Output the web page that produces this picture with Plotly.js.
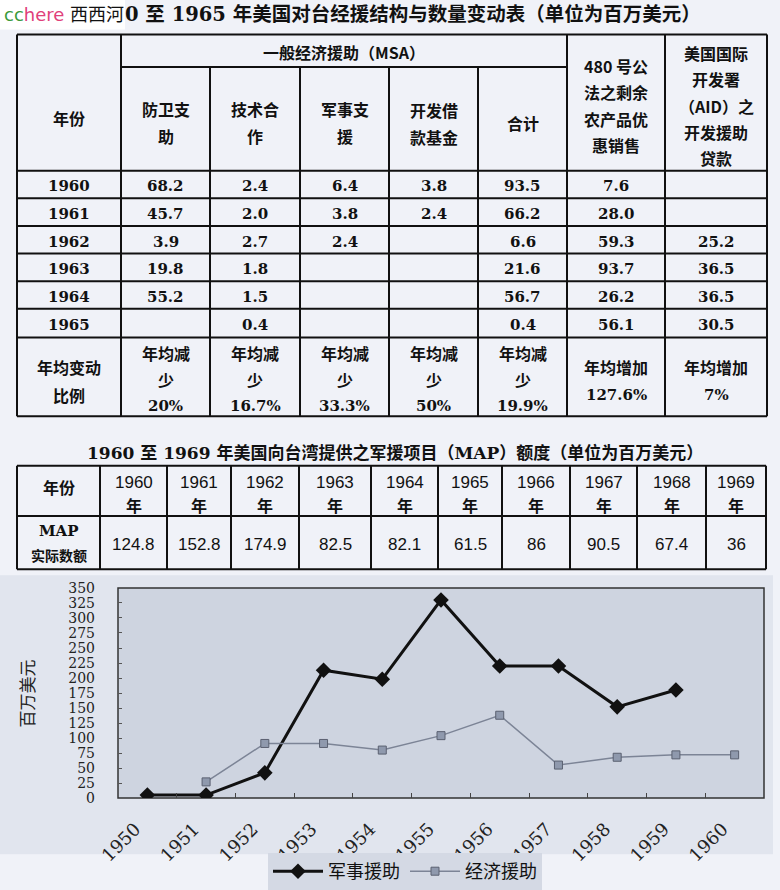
<!DOCTYPE html>
<html>
<head>
<meta charset="utf-8">
<script src="https://cdn.plot.ly/plotly-3.0.1.min.js"></script>
<style>
  body { margin: 0; padding: 0; background: #f0f2f8; }
  #plot { width: 780px; height: 890px; }
</style>
</head>
<body>
<div id="plot"></div>
<script>
// Table 1: 1960-1965 economic aid structure (million USD)
let years1 = ["1960", "1961", "1962", "1963", "1964", "1965"];
let defenseSupport = [68.2, 45.7, 3.9, 19.8, 55.2, null];
let techCoop = [2.4, 2.0, 2.7, 1.8, 1.5, 0.4];
let militarySupport = [6.4, 3.8, 2.4, null, null, null];
let devLoanFund = [3.8, 2.4, null, null, null, null];
let msaTotal = [93.5, 66.2, 6.6, 21.6, 56.7, 0.4];
let pl480 = [7.6, 28.0, 59.3, 93.7, 26.2, 56.1];
let aidLoans = [null, null, 25.2, 36.5, 36.5, 30.5];
let changeWords = ["年均减|少", "年均减|少", "年均减|少", "年均减|少", "年均减|少", "年均增加", "年均增加"];
let changeRates = ["20%", "16.7%", "33.3%", "50%", "19.9%", "127.6%", "7%"];

// Table 2: MAP 1960-1969
let mapYears = ["1960", "1961", "1962", "1963", "1964", "1965", "1966", "1967", "1968", "1969"];
let mapValues = [124.8, 152.8, 174.9, 82.5, 82.1, 61.5, 86, 90.5, 67.4, 36];

// Line chart 1950-1960
let chartYears = ["1950", "1951", "1952", "1953", "1954", "1955", "1956", "1957", "1958", "1959", "1960"];
let militaryAid = [5, 5, 42, 213, 198, 330, 220, 220, 152, 180, null];
let economicAid = [null, 27, 91, 91, 80, 104, 138, 55, 68, 72, 72];

// pixel -> paper helpers (margins are zero)
const W = 780, H = 890;
function px(x) { return x / W; }
function py(y) { return 1 - y / H; }

let annotations = [];
let shapes = [];

function text(lines, cx, cy, gap, font) {
  let n = lines.length;
  for (let i = 0; i < n; i++) {
    annotations.push({
      xref: "paper", yref: "paper",
      x: px(cx), y: py(cy - gap * (n - 1) / 2 + gap * i),
      text: lines[i], showarrow: false,
      xanchor: "center", yanchor: "middle",
      font: font
    });
  }
}

function line(x0, y0, x1, y1, w) {
  shapes.push({
    type: "line", xref: "paper", yref: "paper", layer: "below",
    x0: px(x0), y0: py(y0), x1: px(x1), y1: py(y1),
    line: { color: "#111", width: w || 2 }
  });
}

function rect(x0, y0, x1, y1, fill, border) {
  shapes.push({
    type: "rect", xref: "paper", yref: "paper", layer: "below",
    x0: px(x0), y0: py(y0), x1: px(x1), y1: py(y1),
    fillcolor: fill,
    line: border ? { color: border, width: 1.5 } : { width: 0 }
  });
}

function fmt(v) { return v === null ? "" : v.toFixed(1); }

const cjk = { family: '"Noto Sans CJK SC", sans-serif', size: 16, color: "#111", weight: "bold" };
const num = { family: '"DejaVu Serif", "Noto Sans CJK SC", serif', size: 15, color: "#111", weight: "bold" };

// ---- title with watermark ----
rect(0, 0, 125, 30, "#ffffff");
annotations.push({ xref: "paper", yref: "paper", x: px(2), y: py(15), xanchor: "left", yanchor: "middle",
  showarrow: false, text: "<span style='color:#3a9a3a'>cc</span><span style='color:#e0407a'>here</span> 西西河",
  font: { family: '"DejaVu Sans", "Noto Sans CJK SC", sans-serif', size: 18, color: "#111" } });
annotations.push({ xref: "paper", yref: "paper", x: px(123), y: py(15), xanchor: "left", yanchor: "middle",
  showarrow: false, text: "0 至 1965 年美国对台经援结构与数量变动表（单位为百万美元）",
  font: { family: '"DejaVu Serif", "Noto Sans CJK SC", serif', size: 19.5, color: "#111", weight: "bold" } });

// ---- table 1 grid ----
let cols1 = [17, 121, 210, 300, 389, 478, 567, 665, 767];
let rows1 = [173, 201, 229, 257, 285, 313, 342];
let top1 = 35, bottom1 = 422;
line(cols1[0], top1, cols1[8], top1);
line(cols1[0], bottom1, cols1[8], bottom1);
line(cols1[0], top1, cols1[0], bottom1);
line(cols1[8], top1, cols1[8], bottom1);
line(cols1[1], 68, cols1[6], 68);
for (let r = 0; r < rows1.length; r++) {
  line(cols1[0], rows1[r], cols1[8], rows1[r]);
}
for (let c = 1; c < 8; c++) {
  let yStart = (c === 1 || c >= 6) ? top1 : 68;
  line(cols1[c], yStart, cols1[c], bottom1);
}

function mid(arr, i) { return (arr[i] + arr[i + 1]) / 2; }

// header
text(["年份"], mid(cols1, 0), 120, 27, cjk);
text(["一般经济援助（MSA）"], (cols1[1] + cols1[6]) / 2, 53, 27, cjk);
text(["防卫支", "助"], mid(cols1, 1), 124, 27, cjk);
text(["技术合", "作"], mid(cols1, 2), 124, 27, cjk);
text(["军事支", "援"], mid(cols1, 3), 124, 27, cjk);
text(["开发借", "款基金"], mid(cols1, 4), 125, 27, cjk);
text(["合计"], mid(cols1, 5), 125, 27, cjk);
text(["480 号公", "法之剩余", "农产品优", "惠销售"], mid(cols1, 6), 107, 26.7, cjk);
text(["美国国际", "开发署", "（AID）之", "开发援助", "贷款"], mid(cols1, 7), 107, 26.7, cjk);

// body
let series1 = [defenseSupport, techCoop, militarySupport, devLoanFund, msaTotal, pl480, aidLoans];
for (let i = 0; i < years1.length; i++) {
  let cy = (rows1[i] + rows1[i + 1]) / 2 + 2;
  text([years1[i]], mid(cols1, 0), cy, 0, num);
  for (let s = 0; s < series1.length; s++) {
    let v = fmt(series1[s][i]);
    if (v) text([v], mid(cols1, s + 1), cy, 0, num);
  }
}

// last row
text(["年均变动", "比例"], mid(cols1, 0), 386, 28, cjk);
for (let s = 0; s < changeWords.length; s++) {
  let lines = changeWords[s].split("|");
  let cx = mid(cols1, s + 1);
  if (lines.length === 2) {
    text(lines, cx, 371, 27, cjk);
    text([changeRates[s]], cx, 412, 0, num);
  } else {
    text(lines, cx, 372, 0, cjk);
    text([changeRates[s]], cx, 400, 0, num);
  }
}

// ---- table 2 ----
annotations.push({ xref: "paper", yref: "paper", x: px(395), y: py(459), xanchor: "center", yanchor: "middle",
  showarrow: false, text: "1960 至 1969 年美国向台湾提供之军援项目（MAP）额度（单位为百万美元）",
  font: { family: '"DejaVu Serif", "Noto Sans CJK SC", serif', size: 17, color: "#111", weight: "bold" } });

let cols2 = [17, 100, 167, 231, 299, 371, 438, 502, 570, 637, 706, 766];
let top2 = 472, midRow2 = 523, bottom2 = 577;
line(cols2[0], top2, cols2[11], top2);
line(cols2[0], midRow2, cols2[11], midRow2);
line(cols2[0], bottom2, cols2[11], bottom2);
for (let c = 0; c < cols2.length; c++) {
  line(cols2[c], top2, cols2[c], bottom2);
}
const sans = { family: '"Liberation Sans", "Noto Sans CJK SC", sans-serif', size: 17, color: "#111" };
text(["年份"], mid(cols2, 0), 494, 0, cjk);
text(["MAP"], mid(cols2, 0), 538, 0, { family: '"DejaVu Serif", serif', size: 15, color: "#111", weight: "bold" });
text(["实际数额"], mid(cols2, 0), 563, 0, Object.assign({}, cjk, { size: 14 }));
for (let i = 0; i < mapYears.length; i++) {
  text([mapYears[i]], mid(cols2, i + 1), 489, 0, sans);
  text(["年"], mid(cols2, i + 1), 512, 0, cjk);
  text([String(mapValues[i])], mid(cols2, i + 1), 552, 0, sans);
}

// ---- line chart ----
rect(0, 583, 773, 866, "#e1e5ee");
rect(118, 596, 764, 809, "#ced4e0", "#333333");

annotations.push({ xref: "paper", yref: "paper", x: px(27), y: py(703), xanchor: "center", yanchor: "middle",
  showarrow: false, text: "百万美元", textangle: -90,
  font: { family: '"Noto Sans CJK SC", sans-serif', size: 17, color: "#222" } });

let trace1 = {
  x: chartYears,
  y: militaryAid,
  name: "军事援助",
  type: "scatter",
  mode: "lines+markers",
  line: { color: "#111", width: 3 },
  marker: { symbol: "diamond", size: 12, color: "#111" },
  connectgaps: false
};

let trace2 = {
  x: chartYears,
  y: economicAid,
  name: "经济援助",
  type: "scatter",
  mode: "lines+markers",
  line: { color: "#7c8496", width: 1.5 },
  marker: { symbol: "square", size: 8, color: "#8f99ad", line: { color: "#5a6070", width: 1 } },
  connectgaps: false
};

let data = [trace1, trace2];

let layout = {
  width: W,
  height: H,
  margin: { l: 0, r: 0, t: 0, b: 0, pad: 0 },
  paper_bgcolor: "#f0f2f8",
  plot_bgcolor: "rgba(0,0,0,0)",
  showlegend: true,
  legend: {
    orientation: "h",
    x: px(268), y: py(865), xanchor: "left", yanchor: "top",
    bgcolor: "#d4d9e4",
    font: { family: '"Noto Sans CJK SC", sans-serif', size: 18, color: "#111" },
    itemwidth: 50,
    tracegroupgap: 0
  },
  xaxis: {
    domain: [px(118), px(764)],
    type: "category",
    range: [-0.5, 10.5],
    showgrid: false,
    zeroline: false,
    showline: false,
    ticks: "inside",
    tickson: "boundaries",
    ticklen: 5,
    tickcolor: "#444",
    tickangle: -45,
    ticklabelshift: -12,
    ticklabelstandoff: 16,
    tickfont: { family: '"DejaVu Serif", serif', size: 18, color: "#222" },
    fixedrange: true
  },
  yaxis: {
    domain: [py(809), py(596)],
    range: [0, 350],
    dtick: 25,
    showgrid: false,
    zeroline: false,
    showline: false,
    ticks: "inside",
    ticklen: 4,
    tickcolor: "#555",
    ticklabelstandoff: 22,
    tickfont: { family: '"DejaVu Serif", serif', size: 14, color: "#222" },
    fixedrange: true
  },
  shapes: shapes,
  annotations: annotations
};

Plotly.newPlot("plot", data, layout, { staticPlot: true });
</script>
</body>
</html>
